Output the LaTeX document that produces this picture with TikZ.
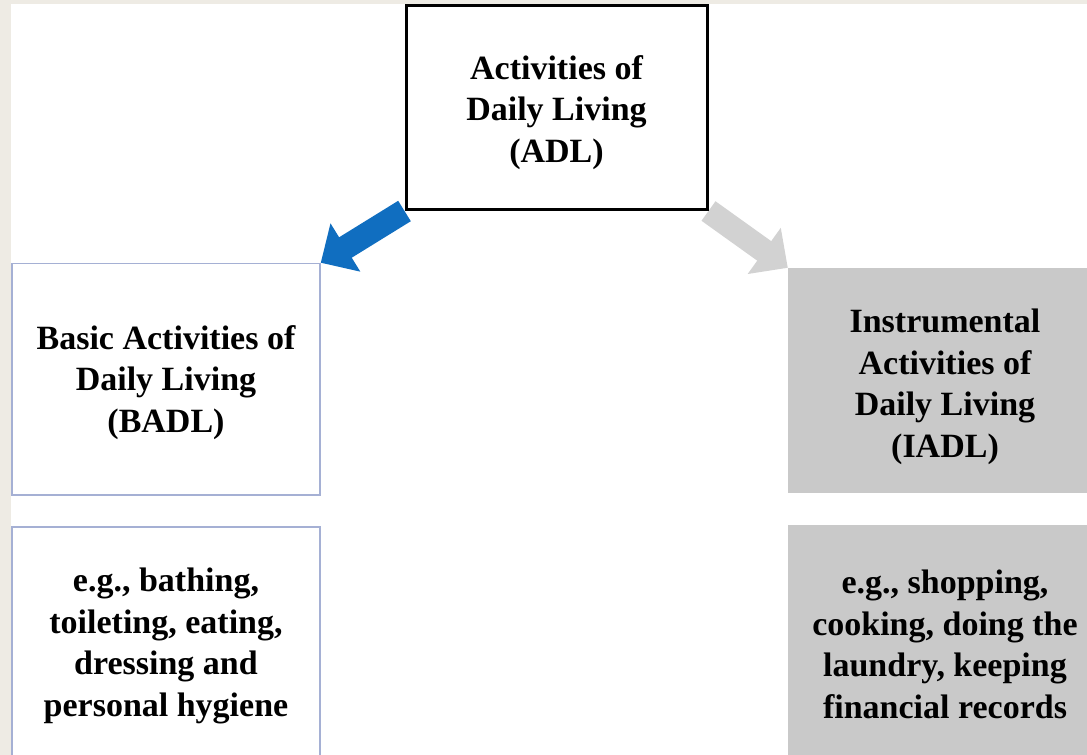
\documentclass[tikz,border=0pt]{standalone}
\usepackage{fontspec}
\setmainfont{Liberation Serif}
\usetikzlibrary{arrows.meta}
\pgfdeclarelayer{paper}
\pgfdeclarelayer{links}
\pgfsetlayers{paper,links,main}
\definecolor{bgbeige}{RGB}{238,235,228}
\definecolor{arrowblue}{RGB}{16,110,192}
\definecolor{arrowgray}{RGB}{210,210,210}
\definecolor{boxgray}{RGB}{201,201,201}
\definecolor{boxline}{RGB}{165,176,212}
\tikzset{
  txt/.style={align=center, font=\fontsize{34}{41.5}\selectfont\bfseries, text=black, inner sep=0pt},
  topbox/.style={draw=black, line width=3pt, fill=white, inner sep=0pt},
  leftbox/.style={draw=boxline, line width=1.5pt, fill=white, minimum width=308pt, inner sep=0pt},
  rightbox/.style={fill=boxgray, minimum width=314pt, inner sep=0pt},
  fatarrow/.style={line width=24pt, -{Triangle[length=29pt,width=55pt]}},
}
\begin{document}
\begin{tikzpicture}[x=1pt,y=-1pt]
\clip (0,0) rectangle (1087,755);
\begin{pgfonlayer}{paper}
\fill[bgbeige] (0,0) rectangle (1087,755);
\fill[white] (11,4) rectangle (1100,760);
\end{pgfonlayer}
% boxes
\node[topbox, minimum width=301pt, minimum height=204pt] (adl) at (556.5,107.5) {};
\node[leftbox, minimum height=231.5pt] (badl) at (166,379.25) {};
\node[leftbox, minimum height=231pt] (bex) at (166,642.5) {};
\node[rightbox, minimum height=225pt] (iadl) at (945,380.5) {};
\node[rightbox, minimum height=237pt] (iex) at (945,643.5) {};
% texts
\node[txt] (adltxt) at ([yshift=-5pt]adl.center) {Activities of\\Daily Living\\(ADL)};
\node[txt] (badltxt) at ([yshift=-3pt]badl.center) {Basic Activities of\\Daily Living\\(BADL)};
\node[txt] (bextxt) at ([yshift=-3.5pt]bex.center) {e.g., bathing,\\toileting, eating,\\dressing and\\personal hygiene};
\node[txt] (iadltxt) at ([yshift=-6.5pt]iadl.center) {Instrumental\\Activities of\\Daily Living\\(IADL)};
\node[txt] (iextxt) at ([yshift=-1pt]iex.center) {e.g., shopping,\\cooking, doing the\\laundry, keeping\\financial records};
% connectors
\begin{pgfonlayer}{links}
\draw[fatarrow, arrowblue] (adl.south west) -- (badl.north east);
\draw[fatarrow, arrowgray] (adl.south east) -- (iadl.north west);
\end{pgfonlayer}
\end{tikzpicture}
\end{document}
